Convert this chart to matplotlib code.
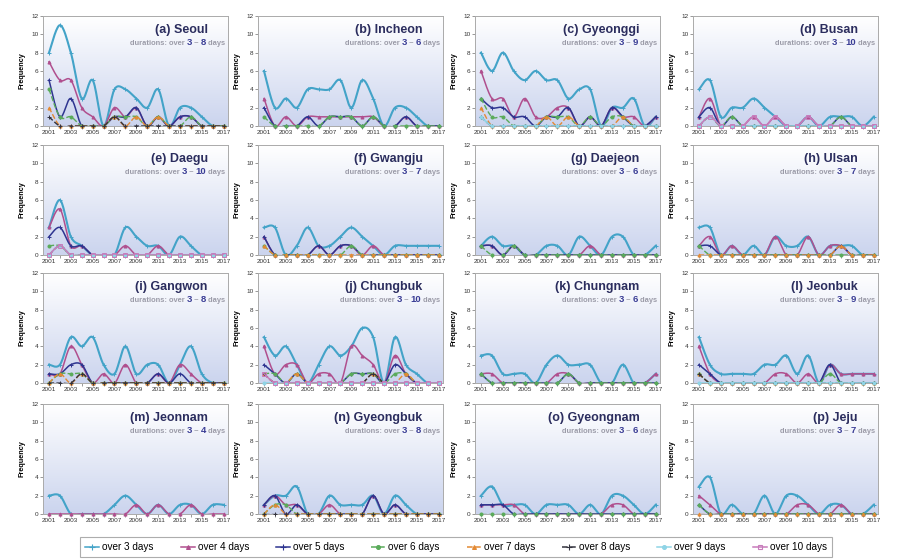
import numpy as np
import matplotlib
matplotlib.use("Agg")
import matplotlib.pyplot as plt
from matplotlib.lines import Line2D
from matplotlib.colors import LinearSegmentedColormap

plt.rcParams['font.family'] = ['Liberation Sans', 'DejaVu Sans']

years = list(range(2001, 2018))
series_labels = ["over 3 days", "over 4 days", "over 5 days", "over 6 days",
                 "over 7 days", "over 8 days", "over 9 days", "over 10 days"]

# each region: list of series starting at "over 3 days"
seoul = [
    [8, 11, 8, 3, 5, 0, 4, 4, 3, 2, 4, 0, 2, 2, 1, 0, 0],
    [7, 5, 5, 2, 1, 0, 2, 1, 2, 0, 1, 0, 1, 1, 0, 0, 0],
    [5, 1, 3, 0, 0, 0, 1, 1, 2, 0, 1, 0, 1, 1, 0, 0, 0],
    [4, 1, 1, 0, 0, 0, 1, 1, 1, 0, 1, 0, 0, 1, 0, 0, 0],
    [2, 0, 0, 0, 0, 0, 1, 0, 1, 0, 1, 0, 0, 0, 0, 0, 0],
    [1, 0, 0, 0, 0, 0, 1, 0, 0, 0, 0, 0, 0, 0, 0, 0, 0],
]
incheon = [
    [6, 2, 3, 2, 4, 4, 4, 5, 2, 5, 3, 0, 2, 2, 1, 0, 0],
    [3, 0, 1, 0, 1, 1, 1, 1, 1, 1, 1, 0, 0, 1, 0, 0, 0],
    [2, 0, 0, 0, 1, 0, 1, 1, 1, 0, 1, 0, 0, 1, 0, 0, 0],
    [1, 0, 0, 0, 0, 0, 1, 1, 1, 0, 1, 0, 0, 0, 0, 0, 0],
]
gyeonggi = [
    [8, 6, 8, 6, 5, 6, 5, 5, 3, 4, 4, 0, 2, 2, 3, 0, 1],
    [6, 3, 3, 1, 3, 1, 1, 2, 2, 0, 1, 0, 2, 1, 1, 0, 1],
    [3, 2, 2, 1, 1, 0, 1, 1, 2, 0, 1, 0, 2, 1, 0, 0, 1],
    [3, 1, 1, 0, 0, 0, 1, 1, 1, 0, 1, 0, 1, 1, 0, 0, 0],
    [2, 0, 0, 0, 0, 0, 1, 0, 1, 0, 0, 0, 0, 1, 0, 0, 0],
    [1, 0, 0, 0, 0, 0, 0, 0, 0, 0, 0, 0, 0, 0, 0, 0, 0],
    [1, 0, 0, 0, 0, 0, 0, 0, 0, 0, 0, 0, 0, 0, 0, 0, 0],
]
busan = [
    [4, 5, 1, 2, 2, 3, 2, 1, 0, 0, 1, 0, 1, 1, 1, 0, 1],
    [1, 3, 0, 0, 0, 1, 0, 1, 0, 0, 1, 0, 0, 0, 0, 0, 0],
    [1, 2, 0, 1, 0, 0, 0, 0, 0, 0, 0, 0, 0, 1, 0, 0, 0],
    [0, 1, 0, 1, 0, 0, 0, 0, 0, 0, 0, 0, 0, 1, 0, 0, 0],
    [0, 1, 0, 0, 0, 0, 0, 0, 0, 0, 0, 0, 0, 0, 0, 0, 0],
    [0, 1, 0, 0, 0, 0, 0, 0, 0, 0, 0, 0, 0, 0, 0, 0, 0],
    [0, 1, 0, 0, 0, 0, 0, 0, 0, 0, 0, 0, 0, 0, 0, 0, 0],
    [0, 1, 0, 0, 0, 1, 0, 1, 0, 0, 1, 0, 0, 0, 0, 0, 0],
]
daegu = [
    [3, 6, 2, 1, 0, 0, 0, 3, 2, 1, 1, 0, 2, 1, 0, 0, 0],
    [3, 5, 1, 1, 0, 0, 0, 1, 0, 0, 1, 0, 0, 0, 0, 0, 0],
    [2, 3, 1, 1, 0, 0, 0, 0, 0, 0, 0, 0, 0, 0, 0, 0, 0],
    [1, 1, 0, 0, 0, 0, 0, 0, 0, 0, 0, 0, 0, 0, 0, 0, 0],
    [0, 1, 0, 0, 0, 0, 0, 0, 0, 0, 0, 0, 0, 0, 0, 0, 0],
    [0, 1, 0, 0, 0, 0, 0, 0, 0, 0, 0, 0, 0, 0, 0, 0, 0],
    [0, 1, 0, 0, 0, 0, 0, 0, 0, 0, 0, 0, 0, 0, 0, 0, 0],
    [0, 1, 0, 0, 0, 0, 0, 0, 0, 0, 0, 0, 0, 0, 0, 0, 0],
]
gwangju = [
    [3, 3, 0, 1, 3, 1, 1, 2, 3, 2, 1, 0, 1, 1, 1, 1, 1],
    [2, 0, 0, 0, 0, 1, 0, 1, 1, 0, 1, 0, 0, 0, 0, 0, 0],
    [2, 0, 0, 0, 0, 1, 0, 1, 1, 0, 0, 0, 0, 0, 0, 0, 0],
    [1, 0, 0, 0, 0, 0, 0, 0, 1, 0, 0, 0, 0, 0, 0, 0, 0],
    [1, 0, 0, 0, 0, 0, 0, 0, 0, 0, 0, 0, 0, 0, 0, 0, 0],
]
daejeon = [
    [1, 2, 1, 1, 0, 0, 1, 1, 0, 2, 1, 0, 2, 2, 0, 0, 1],
    [1, 1, 0, 1, 0, 0, 0, 0, 0, 0, 1, 0, 0, 0, 0, 0, 0],
    [1, 1, 0, 1, 0, 0, 0, 0, 0, 0, 0, 0, 0, 0, 0, 0, 0],
    [1, 0, 0, 1, 0, 0, 0, 0, 0, 0, 0, 0, 0, 0, 0, 0, 0],
]
ulsan = [
    [3, 3, 0, 1, 0, 1, 0, 2, 1, 1, 2, 0, 1, 1, 1, 0, 0],
    [1, 2, 0, 1, 0, 0, 0, 2, 0, 0, 2, 0, 1, 1, 0, 0, 0],
    [1, 1, 0, 0, 0, 0, 0, 0, 0, 0, 0, 0, 0, 1, 0, 0, 0],
    [1, 0, 0, 0, 0, 0, 0, 0, 0, 0, 0, 0, 0, 0, 0, 0, 0],
    [0, 0, 0, 0, 0, 0, 0, 0, 0, 0, 0, 0, 0, 1, 0, 0, 0],
]
gangwon = [
    [2, 2, 5, 4, 5, 2, 1, 4, 1, 2, 2, 0, 2, 4, 1, 0, 0],
    [1, 1, 4, 2, 0, 1, 0, 2, 0, 0, 1, 0, 2, 1, 0, 0, 0],
    [1, 1, 2, 2, 0, 0, 0, 0, 0, 0, 1, 0, 1, 0, 0, 0, 0],
    [0, 1, 1, 1, 0, 0, 0, 0, 0, 0, 0, 0, 0, 0, 0, 0, 0],
    [0, 1, 0, 1, 0, 0, 0, 0, 0, 0, 0, 0, 0, 0, 0, 0, 0],
    [0, 0, 0, 1, 0, 0, 0, 0, 0, 0, 0, 0, 0, 0, 0, 0, 0],
]
chungbuk = [
    [5, 3, 4, 2, 0, 2, 4, 3, 4, 6, 5, 0, 5, 2, 1, 0, 0],
    [4, 1, 2, 2, 0, 1, 1, 0, 4, 3, 2, 0, 3, 1, 0, 0, 0],
    [2, 1, 0, 1, 0, 0, 0, 0, 1, 1, 1, 0, 2, 1, 0, 0, 0],
    [1, 1, 0, 1, 0, 0, 0, 0, 1, 1, 1, 0, 1, 1, 0, 0, 0],
    [1, 0, 0, 1, 0, 0, 0, 0, 0, 0, 1, 0, 0, 1, 0, 0, 0],
    [1, 0, 0, 0, 0, 0, 0, 0, 0, 0, 1, 0, 0, 0, 0, 0, 0],
    [0, 0, 0, 0, 0, 0, 0, 0, 0, 0, 0, 0, 0, 0, 0, 0, 0],
    [1, 0, 0, 0, 0, 0, 0, 0, 0, 0, 0, 0, 0, 0, 0, 0, 0],
]
chungnam = [
    [3, 3, 1, 1, 1, 0, 2, 3, 2, 2, 2, 0, 0, 2, 0, 0, 1],
    [1, 1, 0, 0, 0, 0, 0, 1, 1, 0, 0, 0, 0, 0, 0, 0, 1],
    [1, 0, 0, 0, 0, 0, 0, 0, 1, 0, 0, 0, 0, 0, 0, 0, 0],
    [1, 0, 0, 0, 0, 0, 0, 0, 1, 0, 0, 0, 0, 0, 0, 0, 0],
]
jeonbuk = [
    [5, 2, 1, 1, 1, 1, 2, 2, 3, 1, 3, 0, 2, 1, 1, 1, 1],
    [4, 1, 0, 0, 0, 0, 0, 1, 1, 0, 1, 0, 2, 1, 1, 1, 1],
    [2, 1, 0, 0, 0, 0, 0, 0, 0, 0, 0, 0, 2, 0, 0, 0, 0],
    [1, 0, 0, 0, 0, 0, 0, 0, 0, 0, 0, 0, 1, 0, 0, 0, 0],
    [1, 0, 0, 0, 0, 0, 0, 0, 0, 0, 0, 0, 0, 0, 0, 0, 0],
    [1, 0, 0, 0, 0, 0, 0, 0, 0, 0, 0, 0, 0, 0, 0, 0, 0],
    [0, 0, 0, 0, 0, 0, 0, 0, 0, 0, 0, 0, 0, 0, 0, 0, 0],
]
jeonnam = [
    [2, 2, 0, 0, 0, 0, 1, 2, 1, 0, 1, 0, 1, 1, 0, 1, 1],
    [0, 0, 0, 0, 0, 0, 0, 0, 1, 0, 1, 0, 0, 1, 0, 0, 0],
]
gyeongbuk = [
    [1, 2, 2, 3, 0, 0, 2, 1, 1, 1, 2, 0, 2, 1, 0, 0, 0],
    [1, 2, 1, 1, 0, 0, 1, 0, 0, 0, 2, 0, 1, 0, 0, 0, 0],
    [1, 2, 0, 1, 0, 0, 0, 0, 0, 0, 2, 0, 1, 0, 0, 0, 0],
    [0, 1, 1, 0, 0, 0, 0, 0, 0, 0, 0, 0, 0, 0, 0, 0, 0],
    [0, 1, 0, 0, 0, 0, 0, 0, 0, 0, 0, 0, 0, 0, 0, 0, 0],
    [0, 0, 0, 0, 0, 0, 0, 0, 0, 0, 0, 0, 0, 0, 0, 0, 0],
]
gyeongnam = [
    [2, 3, 1, 1, 1, 0, 1, 1, 1, 0, 1, 0, 2, 2, 1, 0, 1],
    [1, 1, 1, 1, 0, 0, 0, 0, 0, 0, 0, 0, 1, 1, 0, 0, 0],
    [1, 1, 1, 0, 0, 0, 0, 0, 0, 0, 0, 0, 0, 0, 0, 0, 0],
    [0, 0, 0, 0, 0, 0, 0, 0, 0, 0, 0, 0, 0, 0, 0, 0, 0],
]
jeju = [
    [3, 4, 0, 1, 0, 0, 2, 0, 2, 2, 1, 0, 1, 1, 0, 0, 1],
    [2, 1, 0, 0, 0, 0, 0, 0, 0, 1, 1, 0, 0, 1, 0, 0, 0],
    [1, 0, 0, 0, 0, 0, 0, 0, 0, 0, 0, 0, 0, 0, 0, 0, 0],
    [1, 0, 0, 0, 0, 0, 0, 0, 0, 0, 0, 0, 0, 0, 0, 0, 0],
    [0, 0, 0, 0, 0, 0, 0, 0, 0, 0, 0, 0, 0, 0, 0, 0, 0],
]

regions = [
    ("(a) Seoul", seoul, "3", "8"), ("(b) Incheon", incheon, "3", "6"),
    ("(c) Gyeonggi", gyeonggi, "3", "9"), ("(d) Busan", busan, "3", "10"),
    ("(e) Daegu", daegu, "3", "10"), ("(f) Gwangju", gwangju, "3", "7"),
    ("(g) Daejeon", daejeon, "3", "6"), ("(h) Ulsan", ulsan, "3", "7"),
    ("(i) Gangwon", gangwon, "3", "8"), ("(j) Chungbuk", chungbuk, "3", "10"),
    ("(k) Chungnam", chungnam, "3", "6"), ("(l) Jeonbuk", jeonbuk, "3", "9"),
    ("(m) Jeonnam", jeonnam, "3", "4"), ("(n) Gyeongbuk", gyeongbuk, "3", "8"),
    ("(o) Gyeongnam", gyeongnam, "3", "6"), ("(p) Jeju", jeju, "3", "7"),
]

colors = ['#43a3c8', '#b04f8e', '#2e3590', '#5aab5a', '#e38a34', '#34343f', '#8fd4e6', '#c77bbb']
markers = ['+', '^', '+', 'o', '^', '+', 'o', 's']
lstyles = ['-', '-', '-', '--', '--', '--', '-', '-']
lwidths = [1.5, 1.1, 1.1, 1.0, 1.0, 1.0, 1.2, 1.1]
mfaces = ['#43a3c8', '#b04f8e', '#2e3590', '#5aab5a', '#e38a34', '#34343f', '#8fd4e6', 'none']


def smooth(x, y, n=16):
    p = np.column_stack([x, y]).astype(float)
    out = []
    for i in range(len(p) - 1):
        p0 = p[i - 1] if i > 0 else p[i]
        p1 = p[i]
        p2 = p[i + 1]
        p3 = p[i + 2] if i + 2 < len(p) else p[i + 1]
        c1 = p1 + (p2 - p0) / 6.0
        c2 = p2 - (p3 - p1) / 6.0
        t = np.linspace(0, 1, n, endpoint=(i == len(p) - 2))[:, None]
        seg = ((1 - t) ** 3) * p1 + 3 * ((1 - t) ** 2) * t * c1 + 3 * (1 - t) * t ** 2 * c2 + t ** 3 * p2
        out.append(seg)
    s = np.vstack(out)
    return s[:, 0], s[:, 1]


fig = plt.figure(figsize=(9.19, 5.6), dpi=100)
W, H = 919.0, 560.0
lefts = [43, 258, 475, 693]
tops = [16, 145, 273, 404]
aw, ah = 185, 110

grad = np.linspace(0, 1, 256)[:, None]
bgcmap = LinearSegmentedColormap.from_list('bg', ['#ffffff', '#cbd4ee'])

navy = '#2b2d5e'
grey = '#9b9ba8'

for idx, (name, data, lo, hi) in enumerate(regions):
    r, c = divmod(idx, 4)
    ax = fig.add_axes([lefts[c] / W, 1 - (tops[r] + ah) / H, aw / W, ah / H])
    ax.imshow(grad, extent=[2000.45, 2017.4, 0, 12], aspect='auto', cmap=bgcmap,
              origin='upper', zorder=0)
    for k, vals in enumerate(data):
        sx, sy = smooth(years, vals)
        ax.plot(sx, sy, color=colors[k], lw=lwidths[k], ls=lstyles[k], zorder=2 + k)
        ax.plot(years, vals, ls='none', marker=markers[k], ms=2.2 if markers[k] != '+' else 3.0,
                mec=colors[k], mfc=mfaces[k], mew=0.7, zorder=2 + k, clip_on=False)
    ax.set_xlim(2000.45, 2017.4)
    ax.set_ylim(0, 12)
    ax.set_xticks(years)
    ax.set_xticklabels([str(y) if y % 2 == 1 else '' for y in years])
    ax.set_yticks(range(0, 13, 2))
    ax.tick_params(axis='both', labelsize=4.6, length=2, width=0.6, color='#888888',
                   labelcolor='#333333', pad=1.2)
    for sp in ax.spines.values():
        sp.set_color('#aaaaaa')
        sp.set_linewidth(0.7)
    ax.set_ylabel('Frequency', fontsize=5.2, fontweight='bold', labelpad=4)
    ax.text(0.89, 0.87, name, transform=ax.transAxes, ha='right', va='center',
            fontsize=9, fontweight='bold', color=navy)
    pieces = [("durations: over ", grey, 5.4), (lo, '#3a3d95', 6.8), (" ~ ", grey, 5.4),
              (hi, '#3a3d95', 6.8), (" days", grey, 5.4)]
    prev = ax.text(0.985, 0.72, pieces[-1][0], transform=ax.transAxes, ha='right', va='bottom',
                   fontsize=pieces[-1][2], fontweight='bold', color=pieces[-1][1])
    for txt, col, fs in reversed(pieces[:-1]):
        prev = ax.annotate(txt, xy=(0, 0), xycoords=prev, ha='right', va='bottom',
                           fontsize=fs, fontweight='bold', color=col)

handles = []
for k in range(8):
    handles.append(Line2D([0], [0], color=colors[k], lw=1.1, ls=lstyles[k], marker=markers[k],
                          ms=2.8 if markers[k] != '+' else 3.8, mec=colors[k], mfc=mfaces[k], mew=0.8))
leg = fig.legend(handles, series_labels, loc='center', bbox_to_anchor=(456 / W, 1 - 547 / H),
                 ncol=8, fontsize=7.2, frameon=True, fancybox=False, edgecolor='#999999',
                 handlelength=1.4, handletextpad=0.3, columnspacing=2.7, borderpad=0.5)
leg.get_frame().set_linewidth(0.8)

fig.savefig('out.png', dpi=100)
